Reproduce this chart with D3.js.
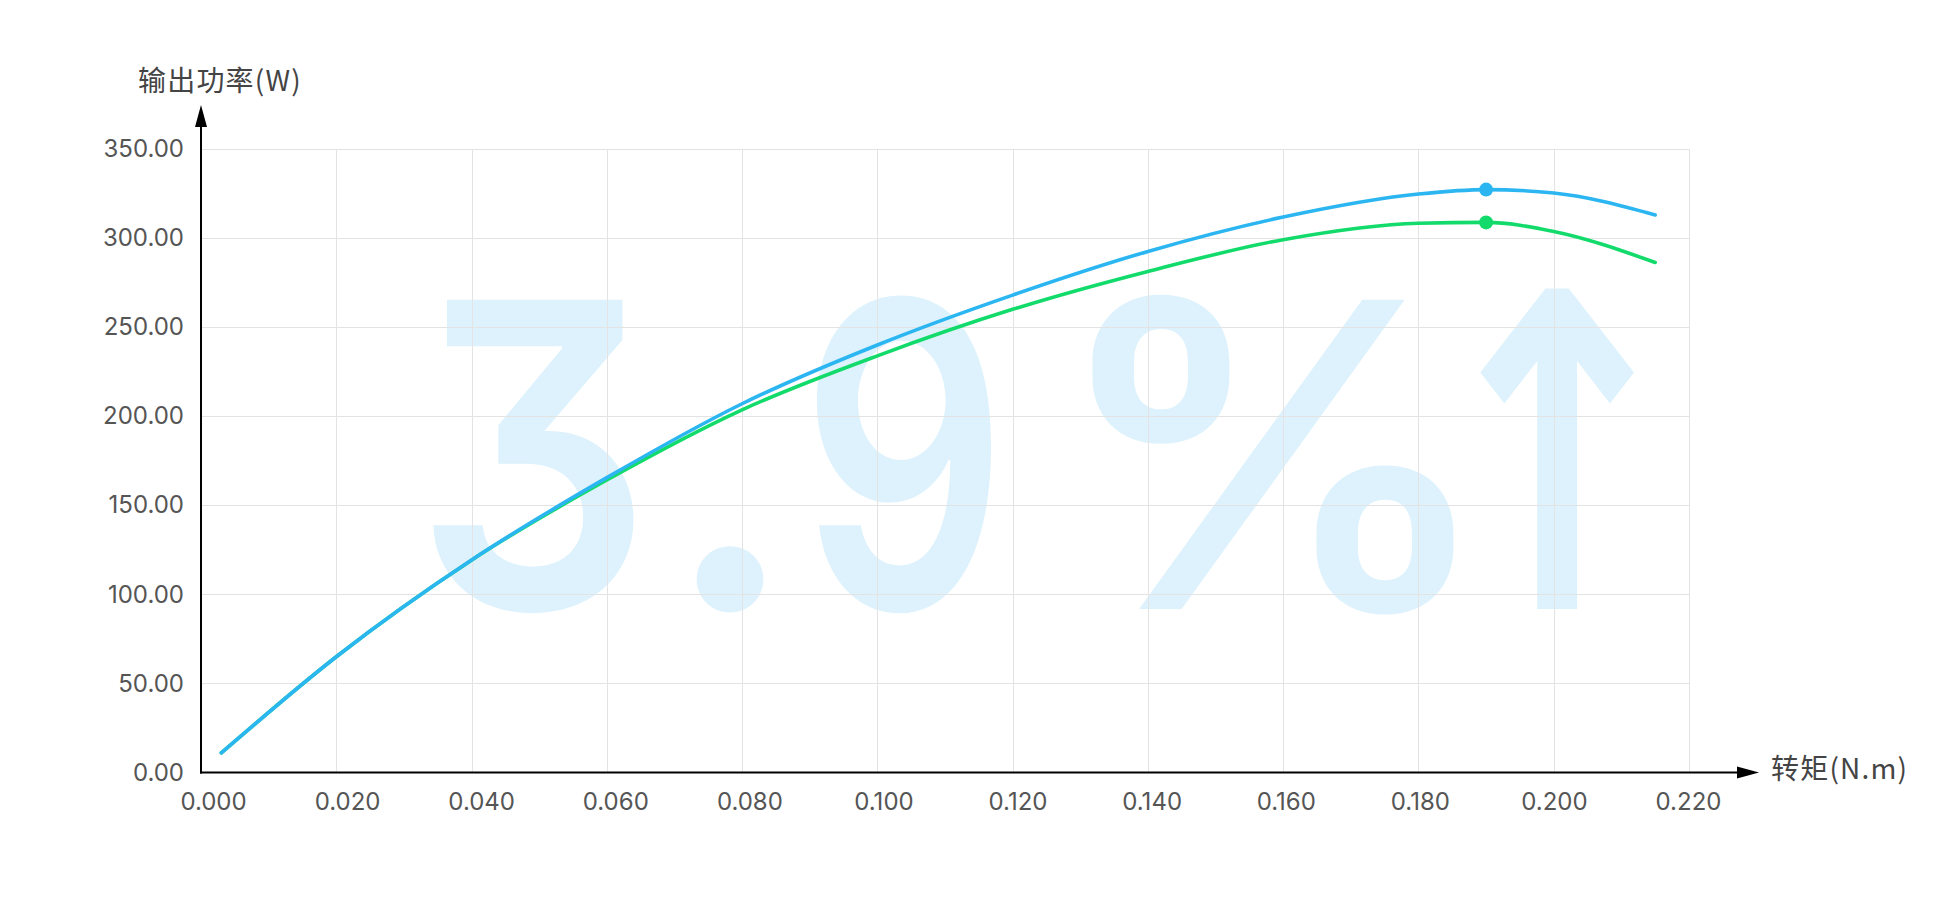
<!DOCTYPE html>
<html>
<head>
<meta charset="utf-8">
<script src="https://cdn.jsdelivr.net/npm/d3@7"></script>
<style>
  html, body { margin: 0; padding: 0; background: #ffffff; }
  svg { display: block; }
</style>
</head>
<body>
<svg id="chart" width="1941" height="901"></svg>
<script>
// ---- data ----
const torque = [0.003, 0.02, 0.04, 0.06, 0.08, 0.10, 0.12, 0.14, 0.16, 0.18, 0.19, 0.20, 0.215];
const powerBlue = [11, 65, 119.3, 165.5, 207, 240, 268, 292.5, 311.8, 324.7, 327.2, 325.3, 313];
const powerGreen = [11, 65, 119.2, 164.2, 203.6, 233.9, 260, 281.3, 299.1, 308.3, 308.8, 303.7, 286.3];
const peakTorque = 0.19;
const peakBlue = 327.2;
const peakGreen = 308.8;
const xTicks = [0, 0.02, 0.04, 0.06, 0.08, 0.10, 0.12, 0.14, 0.16, 0.18, 0.20, 0.22];
const yTicks = [0, 50, 100, 150, 200, 250, 300, 350];
const xTitle = "转矩(N.m)";
const yTitle = "输出功率(W)";
const watermarkChars = ["3", ".", "9", "%", "↑"];

// ---- layout ----
const svg = d3.select("#chart");
const x = d3.scaleLinear().domain([0, 0.22]).range([201, 1689]);
const xLab = d3.scaleLinear().domain([0, 0.22]).range([213, 1688]);
const y = d3.scaleLinear().domain([0, 350]).range([772.5, 149]);

// watermark layout (glyph centres, squeeze, font)
const wmCenters = [533, 730, 904, 1273, 1557];
const wmScaleX = [0.88, 1, 0.76, 1.05, 0.8];
const wmScaleY = [1, 1, 1, 1, 1.03];
const wmFont = ["Inter", "Inter", "Inter", "Inter", "DejaVu Sans"];
const wmWeight = [600, 600, 600, 600, 700];
const wmG = svg.append("g");
watermarkChars.forEach((c, i) => {
  wmG.append("text")
    .attr("transform", `translate(${wmCenters[i]},609) scale(${wmScaleX[i]},${wmScaleY[i]})`)
    .attr("fill", "#ddf2fc")
    .attr("font-size", 425)
    .attr("font-weight", wmWeight[i])
    .attr("font-family", wmFont[i])
    .style("font-feature-settings", "'cv09' 1")
    .attr("text-anchor", "middle")
    .text(c);
});

// grid
const grid = svg.append("g").attr("stroke", "#e3e3e3").attr("stroke-width", 1);
grid.selectAll("line.h").data(yTicks.filter(d => d > 0)).join("line")
  .attr("x1", x(0)).attr("x2", x(0.22))
  .attr("y1", d => Math.round(y(d)) + 0.5).attr("y2", d => Math.round(y(d)) + 0.5);
grid.selectAll("line.v").data(xTicks.filter(d => d > 0)).join("line")
  .attr("x1", d => Math.round(x(d)) + 0.5).attr("x2", d => Math.round(x(d)) + 0.5)
  .attr("y1", y(0)).attr("y2", y(350));

// axes tick labels
const xAxis = d3.axisBottom(xLab).tickValues(xTicks).tickFormat(d3.format(".3f")).tickSize(0).tickPadding(20);
const gx = svg.append("g").attr("transform", `translate(0,${y(0)})`).call(xAxis);
gx.select(".domain").remove();
gx.attr("font-size", 24).attr("font-family", "Inter, sans-serif");
gx.selectAll("text").attr("fill", "#555");

const yAxis = d3.axisLeft(y).tickValues(yTicks).tickFormat(d3.format(".2f")).tickSize(0).tickPadding(17);
const gy = svg.append("g").attr("transform", `translate(${x(0)},0)`).call(yAxis);
gy.select(".domain").remove();
gy.attr("font-size", 24).attr("font-family", "Inter, sans-serif");
gy.selectAll("text").attr("fill", "#555");

// axis lines with arrows
svg.append("line").attr("x1", x(0)).attr("x2", x(0)).attr("y1", y(0) + 1).attr("y2", 124)
  .attr("stroke", "#000").attr("stroke-width", 2);
svg.append("path").attr("d", `M${x(0)},105 L${x(0) - 6},127 L${x(0) + 6},127 Z`).attr("fill", "#000");
svg.append("line").attr("x1", x(0) - 1).attr("x2", 1740).attr("y1", y(0)).attr("y2", y(0))
  .attr("stroke", "#000").attr("stroke-width", 2);
svg.append("path").attr("d", `M1759,${y(0)} L1737,${y(0) - 6} L1737,${y(0) + 6} Z`).attr("fill", "#000");

// titles
svg.append("text").attr("x", 138).attr("y", 91).attr("font-size", 28).attr("fill", "#444")
  .attr("letter-spacing", 1.2)
  .attr("font-family", "'Noto Sans CJK SC', sans-serif").text(yTitle);
svg.append("text").attr("x", 1771).attr("y", 779).attr("font-size", 28).attr("fill", "#444")
  .attr("letter-spacing", 1.2)
  .attr("font-family", "'Noto Sans CJK SC', sans-serif").text(xTitle);

// lines
const line = d3.line().x(d => x(d[0])).y(d => y(d[1])).curve(d3.curveMonotoneX);
svg.append("path").datum(torque.map((t, i) => [t, powerGreen[i]]))
  .attr("d", line).attr("fill", "none").attr("stroke", "#13db6b").attr("stroke-width", 3.6).attr("stroke-linecap", "round");
svg.append("path").datum(torque.map((t, i) => [t, powerBlue[i]]))
  .attr("d", line).attr("fill", "none").attr("stroke", "#2bb6f2").attr("stroke-width", 3.6).attr("stroke-linecap", "round");

// peak markers
svg.append("circle").attr("cx", x(peakTorque)).attr("cy", y(peakGreen)).attr("r", 7).attr("fill", "#13db6b");
svg.append("circle").attr("cx", x(peakTorque)).attr("cy", y(peakBlue)).attr("r", 7).attr("fill", "#2bb6f2");
</script>
</body>
</html>
